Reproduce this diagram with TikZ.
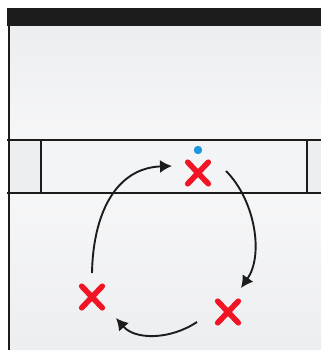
\documentclass[tikz,border=0pt]{standalone}
\usetikzlibrary{arrows.meta,shapes.misc}
\definecolor{bg}{RGB}{237,238,240}
\definecolor{barblack}{RGB}{28,28,28}
\definecolor{xred}{RGB}{240,20,36}
\definecolor{dotblue}{RGB}{28,150,220}
\tikzset{
  court/.style={line width=1.8pt, draw=barblack},
  redx/.style={cross out, draw=xred, line width=5.6pt, line cap=round, minimum width=15pt, minimum height=16pt, inner sep=0pt},
  move/.style={line width=1.9pt, draw=barblack, -{Latex[length=12pt,width=13pt]}}
}
\begin{document}
\begin{tikzpicture}[x=1pt,y=-1pt]
\useasboundingbox (0,0) rectangle (321,350);
\fill[white] (0,0) rectangle (321,350);
\fill[bg] (9,26) rectangle (321,350);
\shade[top color=bg, bottom color=white, opacity=0.5] (9,26) rectangle (321,140);
\shade[top color=white, bottom color=bg, opacity=0.5] (9,193) rectangle (321,350);
\fill[white!35!bg] (41,140) rectangle (307,193);
% top bar
\fill[barblack] (7,8) rectangle (321,26);
% lines
\draw[court] (9,26) -- (9,350);
\draw[court] (7,140) -- (321,140);
\draw[court] (7,193) -- (321,193);
\draw[court] (41,140) -- (41,193);
\draw[court] (307,140) -- (307,193);
% players
\node[redx] (xt) at (198,173) {};
\node[redx] (xl) at (92,297) {};
\node[redx] (xr) at (228,312) {};
\fill[dotblue] (198,150) circle (4.2);
\coordinate (a1s) at (92,273);
\coordinate (a1e) at (172,166);
\coordinate (a2s) at (226,171);
\coordinate (a2e) at (241,288);
\coordinate (a3s) at (197,322);
\coordinate (a3e) at (116,318);
\draw[move] (a1s) .. controls (93,215) and (115,168) .. (a1e);
\draw[move] (a2s) .. controls (255,200) and (264,255) .. (a2e);
\draw[move] (a3s) .. controls (170,340) and (135,340) .. (a3e);
\end{tikzpicture}
\end{document}
